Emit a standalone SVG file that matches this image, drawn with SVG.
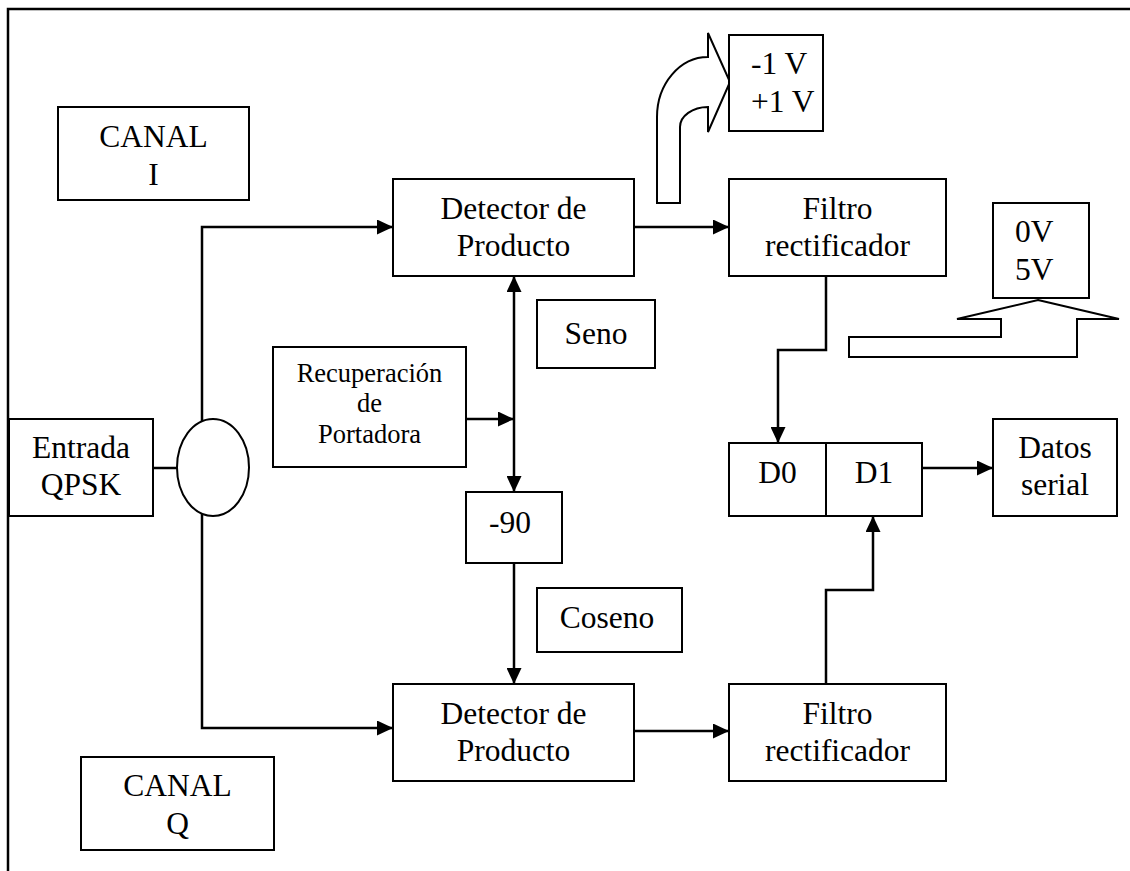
<svg xmlns="http://www.w3.org/2000/svg" width="1130" height="871" viewBox="0 0 1130 871">
  <style>
    .box { fill: #fff; stroke: #000; stroke-width: 2; }
    .wire { fill: none; stroke: #000; stroke-width: 2.5; }
    text { font-family: "Liberation Serif", "Times New Roman", Times, "DejaVu Serif", serif; font-size: 31.5px; fill: #000; }
    .mid { text-anchor: middle; }
    .sm { font-size: 26.5px; }
  </style>
  <defs>
    <marker id="arr" markerUnits="userSpaceOnUse" markerWidth="17" markerHeight="15" refX="16" refY="7.5" orient="auto">
      <path d="M0,0 L16,7.5 L0,15 z" fill="#000"/>
    </marker>
  </defs>

  <rect width="1130" height="871" fill="#fff"/>
  <!-- outer frame -->
  <path d="M8,871 V9 H1130" fill="none" stroke="#000" stroke-width="2.5"/>

  <!-- connectors -->
  <g id="connectors">
    <line class="wire" x1="153" y1="468" x2="177" y2="468"/>
    <path class="wire" d="M202,421 V227 H393" marker-end="url(#arr)"/>
    <path class="wire" d="M202,514 V728 H393" marker-end="url(#arr)"/>
    <line class="wire" x1="634" y1="227" x2="729" y2="227" marker-end="url(#arr)"/>
    <line class="wire" x1="634" y1="731" x2="729" y2="731" marker-end="url(#arr)"/>
    <line class="wire" x1="514" y1="384" x2="514" y2="276" marker-end="url(#arr)"/>
    <line class="wire" x1="514" y1="384" x2="514" y2="492" marker-end="url(#arr)"/>
    <line class="wire" x1="466" y1="419" x2="514" y2="419" marker-end="url(#arr)"/>
    <line class="wire" x1="514" y1="563" x2="514" y2="684" marker-end="url(#arr)"/>
    <path class="wire" d="M826,276 V350 H778 V443" marker-end="url(#arr)"/>
    <path class="wire" d="M826,684 V590 H873 V516" marker-end="url(#arr)"/>
    <line class="wire" x1="922" y1="468" x2="993" y2="468" marker-end="url(#arr)"/>
  </g>

  <!-- bent block arrow toward the -1 V / +1 V box -->
  <g id="arrow-level-i">
    <path d="M657,203 V117 A51,60 0 0 1 708,57 V33 L730,82 L708,132 V107 A28,20 0 0 0 680,127 V203 Z" fill="#fff" stroke="#000" stroke-width="2"/>
  </g>

  <!-- block arrow toward the 0V / 5V box -->
  <g id="arrow-level-out">
    <path d="M1038,300 L1119,319 H1077 V357 H849 V337 H1001 V319 H957 Z" fill="#fff" stroke="#000" stroke-width="2"/>
  </g>

  <g id="canal-i">
    <rect class="box" x="58" y="107" width="191" height="93"/>
    <text class="mid" x="153.5" y="147">CANAL</text>
    <text class="mid" x="153.5" y="185">I</text>
  </g>

  <g id="canal-q">
    <rect class="box" x="81" y="757" width="193" height="93"/>
    <text class="mid" x="177.5" y="796">CANAL</text>
    <text class="mid" x="177.5" y="834">Q</text>
  </g>

  <g id="entrada">
    <rect class="box" x="9" y="419" width="144" height="97"/>
    <text class="mid" x="81" y="458">Entrada</text>
    <text class="mid" x="81" y="495">QPSK</text>
  </g>

  <g id="divisor">
    <ellipse cx="213" cy="467.5" rx="36" ry="48.5" fill="#fff" stroke="#000" stroke-width="2"/>
  </g>

  <g id="detector-i">
    <rect class="box" x="393" y="179" width="241" height="97"/>
    <text class="mid" x="513.5" y="219">Detector de</text>
    <text class="mid" x="513.5" y="256">Producto</text>
  </g>

  <g id="detector-q">
    <rect class="box" x="393" y="684" width="241" height="97"/>
    <text class="mid" x="513.5" y="724">Detector de</text>
    <text class="mid" x="513.5" y="761">Producto</text>
  </g>

  <g id="filtro-i">
    <rect class="box" x="729" y="179" width="217" height="97"/>
    <text class="mid" x="837.5" y="219">Filtro</text>
    <text class="mid" x="837.5" y="256">rectificador</text>
  </g>

  <g id="filtro-q">
    <rect class="box" x="729" y="684" width="217" height="97"/>
    <text class="mid" x="837.5" y="724">Filtro</text>
    <text class="mid" x="837.5" y="761">rectificador</text>
  </g>

  <g id="niveles-i">
    <rect class="box" x="729" y="35" width="94" height="96"/>
    <text x="751" y="74">-1 V</text>
    <text x="751" y="112">+1 V</text>
  </g>

  <g id="niveles-salida">
    <rect class="box" x="993" y="203" width="96" height="95"/>
    <text x="1015" y="242">0V</text>
    <text x="1015" y="280">5V</text>
  </g>

  <g id="seno">
    <rect class="box" x="537" y="300" width="118" height="68"/>
    <text class="mid" x="596" y="344">Seno</text>
  </g>

  <g id="coseno">
    <rect class="box" x="537" y="588" width="145" height="64"/>
    <text class="mid" x="607" y="628">Coseno</text>
  </g>

  <g id="recuperacion">
    <rect class="box" x="273" y="347" width="193" height="120"/>
    <text class="sm mid" x="369.5" y="382">Recuperación</text>
    <text class="sm mid" x="369.5" y="412">de</text>
    <text class="sm mid" x="369.5" y="443">Portadora</text>
  </g>

  <g id="desfase">
    <rect class="box" x="466" y="492" width="96" height="71"/>
    <text class="mid" x="510" y="533">-90</text>
  </g>

  <g id="registro">
    <rect class="box" x="729" y="443" width="97" height="73"/>
    <rect class="box" x="826" y="443" width="96" height="73"/>
    <text class="mid" x="777.5" y="483">D0</text>
    <text class="mid" x="874" y="483">D1</text>
  </g>

  <g id="datos">
    <rect class="box" x="993" y="419" width="124" height="97"/>
    <text class="mid" x="1055" y="458">Datos</text>
    <text class="mid" x="1055" y="495">serial</text>
  </g>
</svg>
